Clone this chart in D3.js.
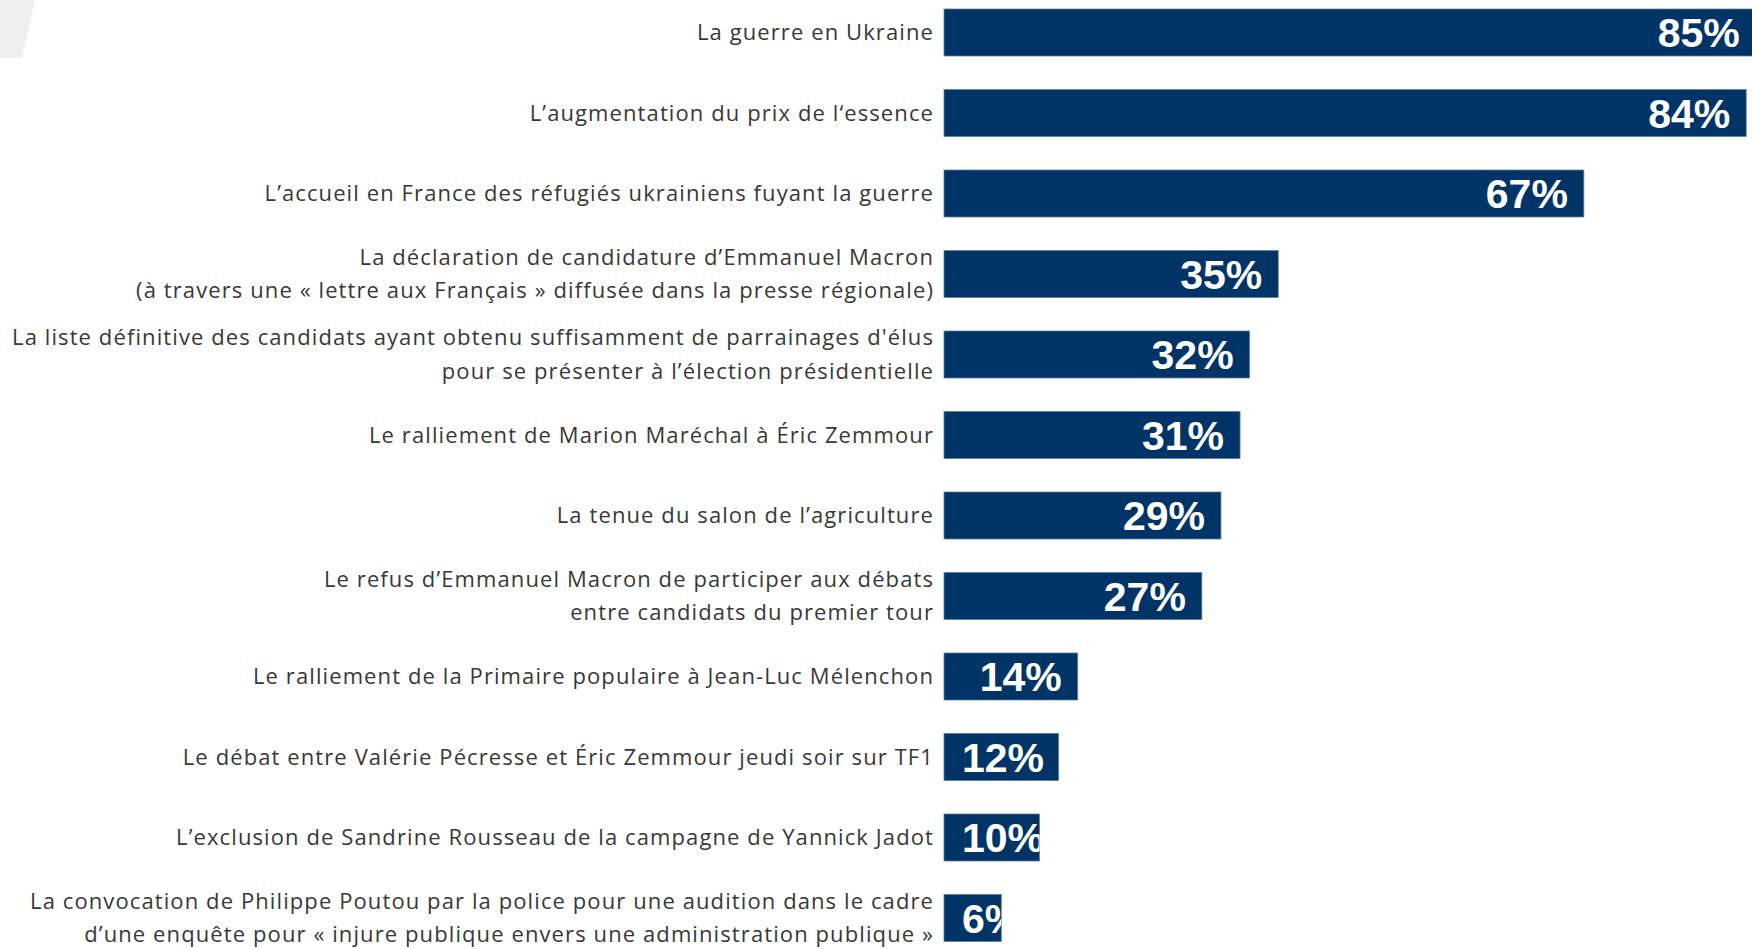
<!DOCTYPE html>
<html>
<head>
<meta charset="utf-8">
<script src="https://cdn.jsdelivr.net/npm/d3@7"></script>
<style>
    body { margin: 0; background: #fff; }
    .label { font-family: "Open Sans", sans-serif; font-size: 22px; letter-spacing: 1.1px; fill: #383838; }
    .value { font-family: "Liberation Sans", Arial, sans-serif; font-weight: bold; font-size: 41px; fill: #fff; }
</style>
</head>
<body>
<div id="main_div"></div>
<script>
/** data **/
const labels = [
    ["La guerre en Ukraine"],
    ["L’augmentation du prix de l‘essence"],
    ["L’accueil en France des réfugiés ukrainiens fuyant la guerre"],
    ["La déclaration de candidature d’Emmanuel Macron", "(à travers une « lettre aux Français » diffusée dans la presse régionale)"],
    ["La liste définitive des candidats ayant obtenu suffisamment de parrainages d'élus", "pour se présenter à l’élection présidentielle"],
    ["Le ralliement de Marion Maréchal à Éric Zemmour"],
    ["La tenue du salon de l’agriculture"],
    ["Le refus d’Emmanuel Macron de participer aux débats", "entre candidats du premier tour"],
    ["Le ralliement de la Primaire populaire à Jean-Luc Mélenchon"],
    ["Le débat entre Valérie Pécresse et Éric Zemmour jeudi soir sur TF1"],
    ["L’exclusion de Sandrine Rousseau de la campagne de Yannick Jadot"],
    ["La convocation de Philippe Poutou par la police pour une audition dans le cadre", "d’une enquête pour « injure publique envers une administration publique »"]
];
const values = [85, 84, 67, 35, 32, 31, 29, 27, 14, 12, 10, 6];

const size = [1752, 949];
const barLeft = 944;
const barColor = "#003466";

let svg = d3.select("#main_div")
    .append("svg")
    .attr("width", size[0])
    .attr("height", size[1])
    .attr("id", "main_svg");

// grey slanted shape in the corner
svg.append("polygon")
    .attr("points", "0,0 35,0 22,58 0,58")
    .style("fill", "#efefef");

let xScale = d3.scaleLinear().domain([0, 100]).range([barLeft, barLeft + 955]);
let yScale = d3.scaleBand()
    .domain(d3.range(values.length))
    .range([-7.75, 958.25])
    .paddingInner(0.416)
    .paddingOuter(0.208);

let defs = svg.append("defs");
defs.selectAll("clipPath")
    .data(values)
    .enter()
    .append("clipPath")
    .attr("id", (d, i) => "clip" + i)
    .append("rect")
    .attr("x", xScale(0))
    .attr("y", (d, i) => yScale(i))
    .attr("width", d => xScale(d) - xScale(0))
    .attr("height", yScale.bandwidth());

/** bars **/
svg.append("g").attr("id", "bars")
    .selectAll("rect")
    .data(values)
    .enter()
    .append("rect")
    .attr("x", xScale(0))
    .attr("y", (d, i) => yScale(i))
    .attr("width", d => xScale(d) - xScale(0))
    .attr("height", yScale.bandwidth())
    .style("fill", barColor)
    .style("stroke", "#5e80a8")
    .style("stroke-width", 0.8);

/** category labels **/
let lineGap = 33.5;
let lab = svg.append("g").attr("id", "labels")
    .selectAll("text")
    .data(labels)
    .enter()
    .append("text")
    .attr("class", "label")
    .attr("text-anchor", "end");

lab.each(function (lines, i) {
    let cy = yScale(i) + yScale.bandwidth() / 2;
    let t = d3.select(this);
    lines.forEach(function (l, j) {
        t.append("tspan")
            .attr("x", barLeft - 10)
            .attr("y", cy + (j - (lines.length - 1) / 2) * lineGap)
            .attr("dy", "0.35em")
            .text(l);
    });
});

/** value labels, clipped to their bar **/
svg.append("g").attr("id", "values")
    .selectAll("text")
    .data(values)
    .enter()
    .append("text")
    .attr("class", "value")
    .attr("clip-path", (d, i) => "url(#clip" + i + ")")
    .attr("y", (d, i) => yScale(i) + yScale.bandwidth() / 2)
    .attr("dy", "0.36em")
    .text(d => d + "%")
    .attr("x", function (d) {
        let w = this.getComputedTextLength();
        return Math.max(barLeft + 18, xScale(d) - 16 - w);
    });
</script>
</body>
</html>
